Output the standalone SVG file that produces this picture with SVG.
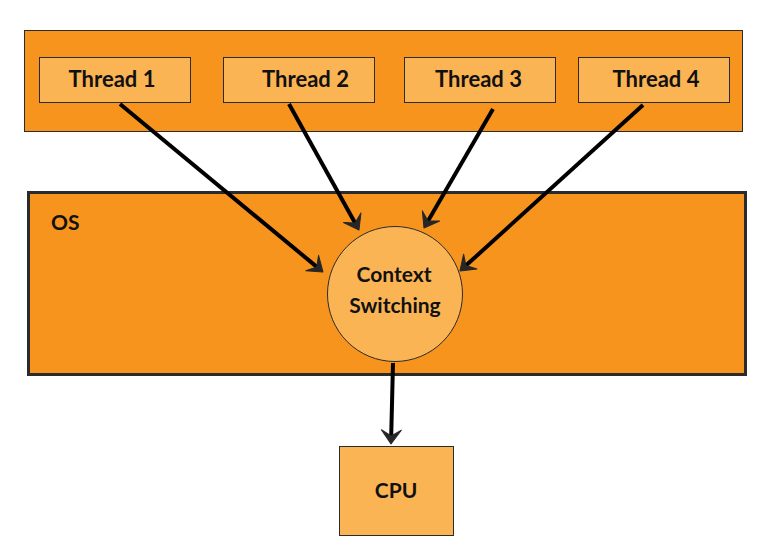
<svg xmlns="http://www.w3.org/2000/svg" width="784" height="554" viewBox="0 0 784 554">
<style>
.outer{fill:#F7941D;stroke:#2b2b2b}
.light{fill:#FBB454;stroke:#2b2b2b;stroke-width:1}
.lbl{font-family:Lato,"Noto Sans","Liberation Sans",sans-serif;font-weight:700;font-size:21px;fill:#111}
.th{font-size:22px}
.conn{stroke:#000;stroke-width:4;fill:none;marker-end:url(#ah)}
</style>
<defs>
<marker id="ah" markerUnits="userSpaceOnUse" orient="auto" refX="0" refY="0" markerWidth="30" markerHeight="30" viewBox="-10 -15 25 30" overflow="visible">
<path d="M8,0 L-6,-10 L0,0 L-6,10 Z" fill="#262626" stroke="#262626" stroke-width="1" stroke-linejoin="round"/>
</marker>
</defs>
<rect width="784" height="554" fill="#fff"/>
<g id="threads-container"><rect class="outer" x="24.5" y="30.5" width="718" height="101" stroke-width="1"/></g>
<g id="os"><rect class="outer" x="28.5" y="192.5" width="717" height="182" stroke-width="3"/>
<text class="lbl" x="51" y="230">OS</text></g>
<g id="thread1"><rect class="light" x="39.5" y="57.5" width="151" height="45"/><text class="lbl th" x="112" y="87" text-anchor="middle">Thread 1</text></g>
<g id="thread2"><rect class="light" x="223.5" y="57.5" width="151" height="45"/><text class="lbl th" x="305.5" y="87" text-anchor="middle">Thread 2</text></g>
<g id="thread3"><rect class="light" x="404.5" y="57.5" width="151" height="45"/><text class="lbl th" x="478.5" y="87" text-anchor="middle">Thread 3</text></g>
<g id="thread4"><rect class="light" x="578.5" y="57.5" width="151" height="45"/><text class="lbl th" x="656" y="87" text-anchor="middle">Thread 4</text></g>
<g id="context-switching"><circle class="light" cx="395" cy="294" r="67.5"/>
<text class="lbl" x="394" y="282" text-anchor="middle">Context</text>
<text class="lbl" x="395" y="313" text-anchor="middle">Switching</text></g>
<g id="cpu"><rect class="light" x="339.5" y="446.5" width="114" height="89" stroke="#000"/><text class="lbl" x="396" y="498" text-anchor="middle">CPU</text></g>
<g id="connectors">
<line class="conn" x1="120" y1="104" x2="316.8" y2="266.9"/>
<line class="conn" x1="289" y1="104" x2="355.1" y2="223"/>
<line class="conn" x1="493" y1="109" x2="428" y2="221.1"/>
<line class="conn" x1="643" y1="105" x2="465.9" y2="265.6"/>
<line class="conn" x1="393" y1="363" x2="391.2" y2="436"/>
</g>
</svg>
